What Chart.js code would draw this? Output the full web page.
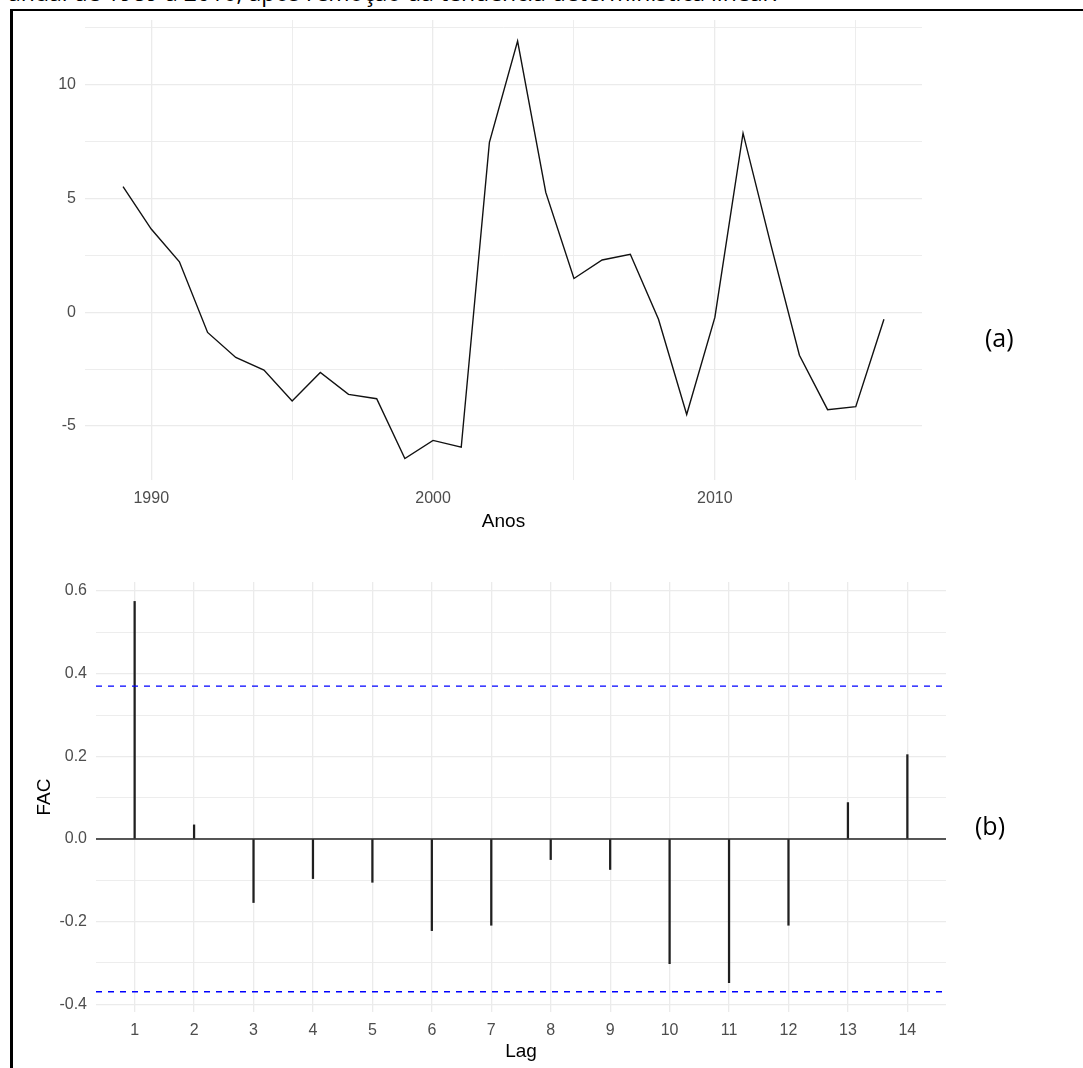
<!DOCTYPE html>
<html lang="pt">
<head>
<meta charset="utf-8">
<script src="https://cdn.jsdelivr.net/npm/chart.js@4"></script>
<style>
  html, body { margin: 0; padding: 0; background: #fff; }
  body { width: 1083px; height: 1068px; position: relative; overflow: hidden; font-family: 'Open Sans', sans-serif; }
  canvas { position: absolute; left: 0; }
  #graficoA { top: 0; }
  #graficoB { top: 550px; }
  #moldura { position: absolute; left: 10px; top: 9px; width: 1090px; height: 1080px; border-top: 2px solid #000; border-left: 3px solid #000; }
  #legenda { position: absolute; left: 8px; top: -19px; font-size: 23px; line-height: 1; white-space: nowrap; color: #000; }
  .rotulo { position: absolute; font-size: 25px; line-height: 1; color: #000; }
</style>
</head>
<body>
<div id="legenda">anual de 1989 a 2016, após remoção da tendência determinística linear.</div>
<div id="moldura"></div>
<canvas id="graficoA" width="1083" height="550"></canvas>
<canvas id="graficoB" width="1083" height="518"></canvas>
<div class="rotulo" style="left:985px; top:325px;">(a)</div>
<div class="rotulo" style="left:975px; top:813px;">(b)</div>
<script>
// (a) serie sem tendencia, 1989-2016
let anos = [1989, 1990, 1991, 1992, 1993, 1994, 1995, 1996, 1997, 1998, 1999, 2000, 2001, 2002,
            2003, 2004, 2005, 2006, 2007, 2008, 2009, 2010, 2011, 2012, 2013, 2014, 2015, 2016];
let serie = [5.51, 3.65, 2.21, -0.89, -1.99, -2.54, -3.90, -2.65, -3.61, -3.80, -6.43, -5.63, -5.93, 7.46,
             11.90, 5.26, 1.48, 2.29, 2.54, -0.31, -4.49, -0.23, 7.86, 2.90, -1.89, -4.28, -4.15, -0.31];
let ticksAnos = [1990, 1995, 2000, 2005, 2010, 2015];
let ticksSerie = [-5, -2.5, 0, 2.5, 5, 7.5, 10, 12.5];

// (b) funcao de autocorrelacao
let lags = [1, 2, 3, 4, 5, 6, 7, 8, 9, 10, 11, 12, 13, 14];
let fac = [0.575, 0.034, -0.154, -0.096, -0.105, -0.222, -0.209, -0.050, -0.074, -0.302, -0.348, -0.209, 0.088, 0.204];
let limiteFac = 0.37;
let ticksFac = [-0.4, -0.3, -0.2, -0.1, 0, 0.1, 0.2, 0.3, 0.4, 0.5, 0.6];

let corGrade = '#ebebeb';
let fonteEixo = { family: "'Liberation Sans', Arial, sans-serif", size: 16 };
let fonteTitulo = { family: "'Liberation Sans', Arial, sans-serif", size: 19 };

function eixoBase(ticks, ehMaior, rotulo, extra) {
  return Object.assign({
    type: 'linear',
    afterBuildTicks: axis => { axis.ticks = ticks.map(v => ({ value: v })); },
    border: { display: false },
    grid: {
      drawTicks: false,
      offset: false,
      color: corGrade,
      lineWidth: ctx => (ctx.tick && ehMaior(ctx.tick.value)) ? 1.3 : 0.9
    },
    ticks: {
      autoSkip: false, maxRotation: 0, padding: 9,
      color: '#4d4d4d', font: fonteEixo,
      callback: v => ehMaior(v) ? rotulo(v) : ''
    }
  }, extra);
}

let xMinA = 1987.65, xMaxA = 2017.35;
new Chart(document.getElementById('graficoA'), {
  type: 'line',
  data: {
    datasets: [{
      data: anos.map((a, i) => ({ x: a, y: serie[i] })),
      borderColor: '#111', borderWidth: 1.4, pointRadius: 0, tension: 0
    }]
  },
  options: {
    responsive: false, animation: false, devicePixelRatio: 1,
    layout: { padding: { left: 0, top: 20, right: 161, bottom: 0 } },
    plugins: { legend: { display: false }, tooltip: { enabled: false } },
    scales: {
      x: eixoBase(ticksAnos, v => v % 10 === 0, v => String(v), {
        min: xMinA, max: xMaxA,
        afterFit: s => { s.height = 70; },
        title: { display: true, text: 'Anos', color: '#000', font: fonteTitulo, padding: { top: 0, bottom: 17 } }
      }),
      y: eixoBase(ticksSerie, v => v % 5 === 0, v => String(v), {
        min: -7.37, max: 12.83,
        afterFit: s => { s.width = 85; }
      })
    }
  }
});

let xMinB = 0.35, xMaxB = 14.65;
new Chart(document.getElementById('graficoB'), {
  type: 'bar',
  data: {
    datasets: [
      { type: 'bar', data: lags.map((l, i) => ({ x: l, y: fac[i] })), backgroundColor: '#1f1f1f', barThickness: 1.6, grouped: false, order: 3 },
      { type: 'line', data: [{ x: xMinB, y: 0 }, { x: xMaxB, y: 0 }], borderColor: '#222', borderWidth: 1.4, pointRadius: 0, order: 2 },
      { type: 'line', data: [{ x: xMinB, y: limiteFac }, { x: xMaxB, y: limiteFac }], borderColor: '#0000ff', borderWidth: 1.4, borderDash: [6, 6], pointRadius: 0, order: 1 },
      { type: 'line', data: [{ x: xMinB, y: -limiteFac }, { x: xMaxB, y: -limiteFac }], borderColor: '#0000ff', borderWidth: 1.4, borderDash: [6, 6], pointRadius: 0, order: 1 }
    ]
  },
  options: {
    responsive: false, animation: false, devicePixelRatio: 1,
    layout: { padding: { left: 0, top: 32, right: 137, bottom: 0 } },
    plugins: { legend: { display: false }, tooltip: { enabled: false } },
    scales: {
      x: eixoBase(lags, v => true, v => String(v), {
        min: xMinB, max: xMaxB, offset: false,
        afterFit: s => { s.height = 56; },
        title: { display: true, text: 'Lag', color: '#000', font: fonteTitulo, padding: { top: 0, bottom: 5 } }
      }),
      y: eixoBase(ticksFac, v => Math.round(v * 10) % 2 === 0, v => v.toFixed(1), {
        min: -0.419, max: 0.622,
        afterFit: s => { s.width = 96; },
        title: { display: true, text: 'FAC', color: '#000', font: fonteTitulo, padding: { top: 33, bottom: 0 } }
      })
    }
  }
});
</script>
</body>
</html>
